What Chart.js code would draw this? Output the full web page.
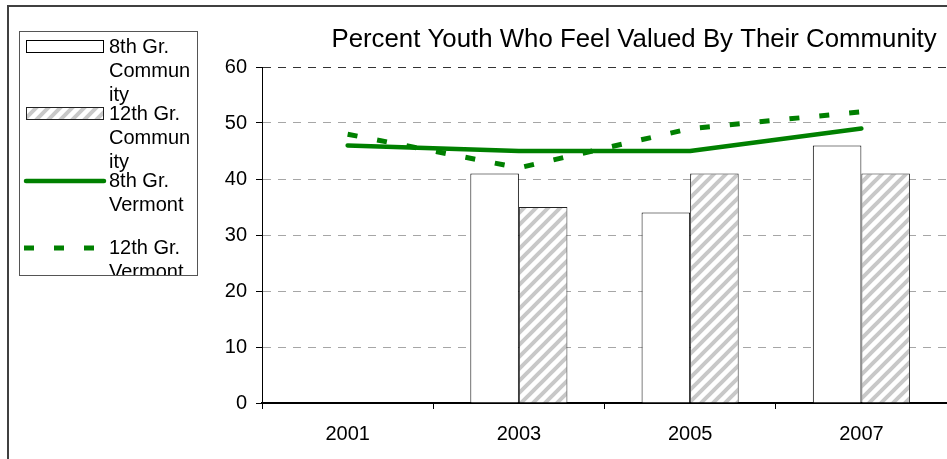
<!DOCTYPE html>
<html><head><meta charset="utf-8">
<script src="https://cdn.jsdelivr.net/npm/chart.js@4.4.1/dist/chart.umd.min.js"></script>
<style>html,body{margin:0;padding:0;background:#fff;overflow:hidden}#wrap{width:947px;height:459px;position:relative}</style>
</head><body><div id="wrap"><canvas id="c" width="947" height="459"></canvas></div>
<script>
const chartTitle = 'Percent Youth Who Feel Valued By Their Community';
const years = ['2001', '2003', '2005', '2007'];
const seriesNames = ['8th Gr. Community', '12th Gr. Community', '8th Gr. Vermont', '12th Gr. Vermont'];
const community8 = [null, 41, 34, 46];
const community12 = [null, 35, 41, 41];
const vermont8 = [46, 45, 45, 49];
const vermont12 = [48, 42, 49, 52];
const yTicks = [0, 10, 20, 30, 40, 50, 60];

const FONT = '"Liberation Sans", Arial, Helvetica, sans-serif';
Chart.defaults.font.family = FONT;
Chart.defaults.color = '#000';

function makeHatch() {
  const s = 12;
  const c = document.createElement('canvas');
  c.width = s; c.height = s;
  const g = c.getContext('2d');
  g.fillStyle = '#ffffff';
  g.fillRect(0, 0, s, s);
  g.strokeStyle = '#c8c8c8';
  g.lineWidth = 4;
  g.lineCap = 'square';
  g.beginPath();
  g.moveTo(-2, s + 2); g.lineTo(s + 2, -2);
  g.moveTo(-2, 2); g.lineTo(2, -2);
  g.moveTo(s - 2, s + 2); g.lineTo(s + 2, s - 2);
  g.stroke();
  return g.createPattern(c, 'repeat');
}
const hatch = makeHatch();

function wrapText(ctx, text, maxW) {
  const words = text.split(' ');
  const lines = [];
  let cur = '';
  for (const w of words) {
    const test = cur ? cur + ' ' + w : w;
    if (ctx.measureText(test).width <= maxW) { cur = test; continue; }
    if (cur) { lines.push(cur); cur = ''; }
    if (ctx.measureText(w).width <= maxW) { cur = w; continue; }
    let piece = '';
    for (const ch of w) {
      if (ctx.measureText(piece + ch).width > maxW) { lines.push(piece); piece = ch; }
      else piece += ch;
    }
    cur = piece;
  }
  if (cur) lines.push(cur);
  return lines;
}

const decor = {
  id: 'decor',
  afterDraw(chart) {
    const ctx = chart.ctx;
    ctx.save();
    // outer frame
    ctx.strokeStyle = '#404040';
    ctx.lineWidth = 2;
    ctx.beginPath();
    ctx.moveTo(8, 459); ctx.lineTo(8, 6); ctx.lineTo(947, 6);
    ctx.stroke();
    // title
    ctx.fillStyle = '#000';
    ctx.font = '25.8px ' + FONT;
    ctx.textAlign = 'center';
    ctx.textBaseline = 'alphabetic';
    ctx.fillText(chartTitle, 634, 47);
    // legend box
    const bx = 19.5, by = 31.5, bw = 178, bh = 244;
    ctx.fillStyle = '#fff';
    ctx.fillRect(bx, by, bw, bh);
    ctx.strokeStyle = '#555';
    ctx.lineWidth = 1;
    ctx.strokeRect(bx, by, bw, bh);
    ctx.beginPath();
    ctx.rect(bx + 0.5, by + 0.5, bw - 1, bh - 1);
    ctx.clip();
    ctx.font = '20px ' + FONT;
    ctx.textAlign = 'left';
    ctx.textBaseline = 'middle';
    chart.data.datasets.forEach((ds, i) => {
      const cy = 47 + 67 * i;
      if (ds.type === 'line') {
        const dashed = ds.borderDash && ds.borderDash.length;
        ctx.save();
        ctx.strokeStyle = ds.borderColor;
        ctx.lineWidth = ds.borderWidth;
        ctx.lineCap = dashed ? 'butt' : 'round';
        ctx.setLineDash(ds.borderDash || []);
        ctx.beginPath();
        ctx.moveTo(dashed ? 24 : 26, cy);
        ctx.lineTo(104, cy);
        ctx.stroke();
        ctx.restore();
      } else {
        ctx.fillStyle = ds.backgroundColor;
        ctx.fillRect(26.5, cy - 6.5, 77, 12);
        ctx.strokeStyle = ds.borderColor;
        ctx.lineWidth = 1;
        ctx.strokeRect(26.5, cy - 6.5, 77, 12);
      }
      ctx.fillStyle = '#000';
      const lines = wrapText(ctx, ds.label, 84);
      lines.forEach((ln, k) => ctx.fillText(ln, 109, cy + 24 * k));
    });
    ctx.restore();
  }
};

new Chart(document.getElementById('c'), {
  type: 'bar',
  data: {
    labels: years,
    datasets: [
      { type: 'bar', label: seriesNames[0], data: community8, backgroundColor: '#ffffff', borderColor: '#000', borderWidth: 1, order: 2, borderSkipped: 'bottom' },
      { type: 'bar', label: seriesNames[1], data: community12, backgroundColor: hatch, borderColor: '#222', borderWidth: 1, order: 2, borderSkipped: 'bottom' },
      { type: 'line', label: seriesNames[2], data: vermont8, borderColor: '#008000', borderWidth: 4.5, pointRadius: 0, tension: 0, borderCapStyle: 'round', borderJoinStyle: 'round', order: 0 },
      { type: 'line', label: seriesNames[3], data: vermont12, borderColor: '#008000', borderWidth: 5, borderDash: [10, 20], pointRadius: 0, tension: 0, borderCapStyle: 'butt', order: 1 }
    ]
  },
  options: {
    responsive: false,
    animation: false,
    devicePixelRatio: 1,
    categoryPercentage: 0.567,
    barPercentage: 1,
    layout: { padding: { top: 67, right: 0, bottom: 0, left: 0 } },
    plugins: { legend: { display: false }, title: { display: false }, tooltip: { enabled: false } },
    events: [],
    scales: {
      x: {
        type: 'category',
        offset: true,
        grid: { display: true, drawOnChartArea: false, drawTicks: true, tickLength: 6, color: '#000', offset: true, lineWidth: 1 },
        border: { display: true, color: '#000', width: 2 },
        ticks: { font: { size: 20 }, color: '#000', padding: 13, maxRotation: 0 },
        afterFit(s) { s.height = 56; }
      },
      y: {
        min: 0, max: 60,
        afterBuildTicks(s) { s.ticks = yTicks.map(v => ({ value: v })); },
        grid: {
          color: c => (c.tick && c.tick.value === 60) ? '#333' : '#a6a6a6',
          lineWidth: 1, drawTicks: true, tickLength: 6, tickColor: '#000', tickBorderDash: []
        },
        border: { display: true, color: '#000', width: 1, dash: [8, 7] },
        ticks: { font: { size: 20 }, color: '#000', padding: 9 },
        afterFit(s) { s.width = 262; }
      }
    }
  },
  plugins: [decor]
});
</script>
</body></html>
